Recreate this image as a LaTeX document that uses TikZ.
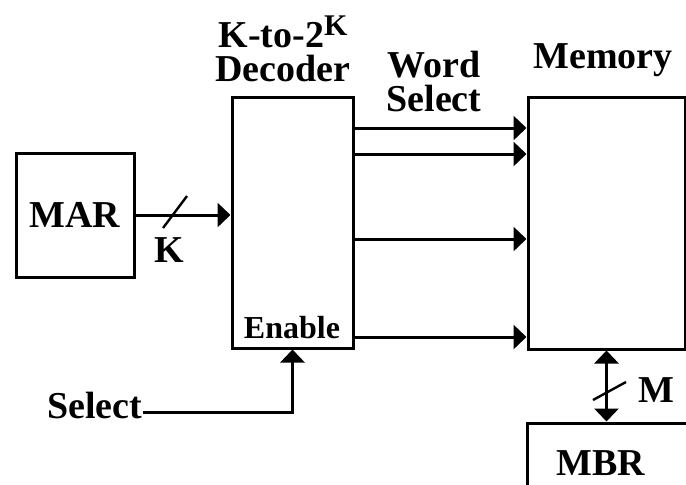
\documentclass[tikz,border=0pt]{standalone}
\usepackage{fontspec}
\setmainfont{Liberation Serif}
\usetikzlibrary{arrows.meta, positioning, calc}

\begin{document}
\begin{tikzpicture}[x=0.5pt, y=-0.5pt,
    box/.style={draw, line width=1.5pt, inner sep=0pt},
    lbl/.style={font=\fontsize{19}{17}\selectfont\bfseries, align=center, inner sep=0pt},
    arrow/.style={-{Triangle[length=6.5pt, width=12pt]}, line width=1.5pt},
    biarrow/.style={{Triangle[length=6.5pt, width=12pt]}-{Triangle[length=6.5pt, width=12pt]}, line width=1.5pt},
    slash/.style={line width=1.2pt}
  ]
  \useasboundingbox (0,0) rectangle (686,484);
  \clip (0,0) rectangle (686,484);

  \node[box, lbl, minimum width=59pt, minimum height=62pt] (mar) at (75,215) {MAR};
  \node[box, minimum width=60.5pt, minimum height=125.5pt] (dec) at (292.5,222.5) {};
  \node[box, minimum width=78.5pt, minimum height=126pt] (mem) at (606.5,223) {};
  \node[box, minimum width=86pt, minimum height=48pt] (mbr) at (613,471) {};

  \node[lbl, anchor=south] (declbl) at (283,82) {K-to-2\raisebox{6pt}{\fontsize{15}{15}\selectfont K}\\Decoder};
  \node[lbl, anchor=south] (wordlbl) at (434,112) {Word\\Select};
  \node[lbl, anchor=base] (memlbl) at (603,68) {Memory};
  \node[lbl, anchor=base] (enlbl) at (292,338) {\fontsize{16}{16}\selectfont Enable};
  \node[lbl, anchor=base] (mbrlbl) at (601,475) {MBR};
  \node[lbl, anchor=base] (klbl) at (169,262) {K};
  \node[lbl, anchor=base] (mlbl) at (656,402) {M};
  \node[lbl, anchor=base west] (sel) at (47,418) {Select};

  % address bus into the decoder
  \draw[arrow] (mar.east) -- (mar.east -| dec.west);
  \coordinate (kslash) at (175,212);
  \draw[slash] ($(kslash)+(-12,16)$) -- ($(kslash)+(12,-16)$);

  % word select lines
  \foreach \y in {128,154,239,337}
    \draw[arrow] (dec.east |- 0,\y) -- (mem.west |- 0,\y);

  \draw[arrow] ([yshift=-3.5pt]sel.east) -| (dec.south);

  % data bus
  \draw[biarrow] (mem.south) -- (mem.south |- mbr.north);
  \coordinate (mslash) at (610,391);
  \draw[slash] ($(mslash)+(-17,9)$) -- ($(mslash)+(16,-9)$);
\end{tikzpicture}
\end{document}
